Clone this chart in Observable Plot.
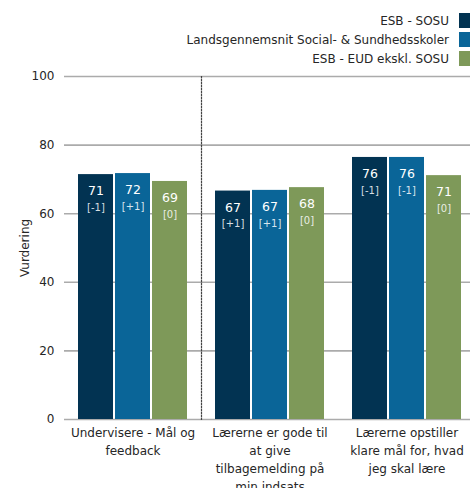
<!DOCTYPE html>
<html>
<head>
<meta charset="utf-8">
<script src="https://cdn.jsdelivr.net/npm/d3@7"></script>
<script src="https://cdn.jsdelivr.net/npm/@observablehq/plot@0.6"></script>
<style>
  html, body { margin: 0; padding: 0; background: #fff; }
  #wrap { position: relative; width: 470px; height: 488px; font-family: "DejaVu Sans", sans-serif; color: #262626; }
  #legend { position: absolute; top: 11px; right: 0; font-size: 12px; }
  .row { display: flex; align-items: center; justify-content: flex-end; height: 19px; }
  .sw { width: 11px; height: 15px; margin-left: 10px; }
</style>
</head>
<body>
<div id="wrap"><div id="legend"></div></div>
<script>
const categories = [
  "Undervisere - Mål og\nfeedback",
  "Lærerne er gode til\nat give\ntilbagemelding på\nmin indsats",
  "Lærerne opstiller\nklare mål for, hvad\njeg skal lære"
];
const series = ["ESB - SOSU", "Landsgennemsnit Social- & Sundhedsskoler", "ESB - EUD ekskl. SOSU"];
const colors = ["#023352", "#0a6598", "#7e9959"];
const esbSosu = [71.4, 66.6, 76.4];
const landsgennemsnit = [71.7, 66.8, 76.4];
const eudEksklSosu = [69.4, 67.6, 71.1];
const esbSosuChange = ["[-1]", "[+1]", "[-1]"];
const landsChange = ["[+1]", "[+1]", "[-1]"];
const eudChange = ["[0]", "[0]", "[0]"];
const yTicks = [0, 20, 40, 60, 80, 100];

const values = [esbSosu, landsgennemsnit, eudEksklSosu];
const changes = [esbSosuChange, landsChange, eudChange];
const data = series.flatMap((s, i) => categories.map((c, j) => ({
  cat: c, series: s, value: values[i][j], change: changes[i][j]
})));

const chart = Plot.plot({
  width: 470,
  height: 488,
  marginTop: 76,
  marginBottom: 69,
  marginLeft: 64,
  marginRight: 0,
  style: { fontFamily: "DejaVu Sans, sans-serif", fontSize: "12px", color: "#262626", background: "transparent" },
  fx: { domain: categories, range: [64, 475], padding: 0, label: null },
  x: { domain: series, paddingInner: 0.062, paddingOuter: 0.367, axis: null },
  y: { domain: [0, 100], label: null },
  color: { domain: series, range: colors },
  marks: [
    Plot.ruleY(yTicks, { stroke: "#ababab", strokeWidth: 1.6 }),
    Plot.frame({ fx: () => categories[1], anchor: "left", stroke: "#444", strokeDasharray: "1.5,1.5", strokeWidth: 1.2 }),
    Plot.axisY({ ticks: yTicks, tickSize: 0, tickPadding: 10, fontSize: 12, label: "Vurdering", labelAnchor: "center", labelArrow: "none", labelOffset: 44 }),
    Plot.barY(data, { fx: "cat", x: "series", y: "value", fill: "series" }),
    Plot.text(data, { fx: "cat", x: "series", y: "value", text: d => String(Math.round(d.value)), dy: 16.5, fill: "white", fontSize: 12.5 }),
    Plot.text(data, { fx: "cat", x: "series", y: "value", text: "change", dy: 33, fill: "white", fillOpacity: 0.85, fontSize: 10 }),
    Plot.axisFx({ anchor: "bottom", tickSize: 0, tickPadding: 5, lineHeight: 1.5, fontSize: 12, label: null })
  ]
});
document.getElementById("wrap").appendChild(chart);
chart.style.position = "absolute";
chart.style.left = "0";
chart.style.top = "0";

const legend = document.getElementById("legend");
series.forEach((s, i) => {
  const row = document.createElement("div");
  row.className = "row";
  const t = document.createElement("span");
  t.textContent = s;
  const sw = document.createElement("span");
  sw.className = "sw";
  sw.style.background = colors[i];
  row.appendChild(t);
  row.appendChild(sw);
  legend.appendChild(row);
});
document.getElementById("wrap").appendChild(legend);
</script>
</body>
</html>
